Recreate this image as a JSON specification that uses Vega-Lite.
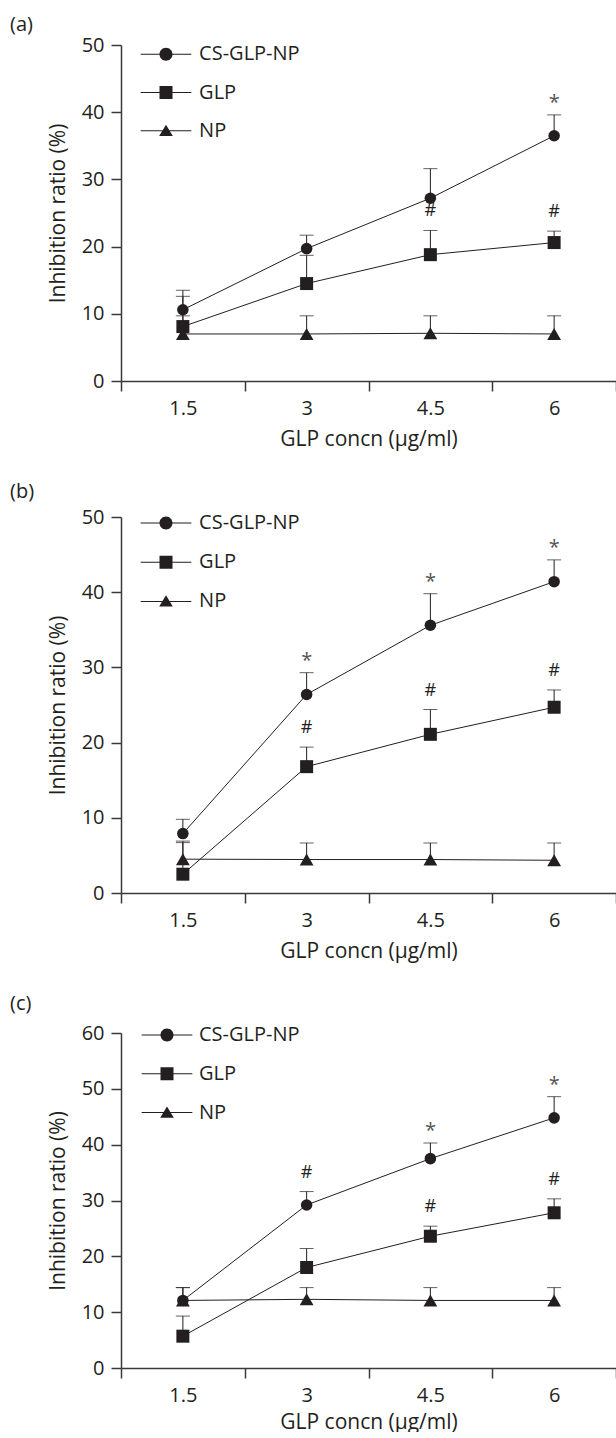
{
  "$schema": "https://vega.github.io/schema/vega-lite/v6.json",
  "padding": {"left": 10, "top": 14, "right": 0, "bottom": 0},
  "spacing": 32,
  "datasets": {
    "a": [
      {"conc": "1.5", "series": "CS-GLP-NP", "mean": 10.6, "upper": 13.5, "sig": ""},
      {"conc": "3", "series": "CS-GLP-NP", "mean": 19.7, "upper": 21.7, "sig": ""},
      {"conc": "4.5", "series": "CS-GLP-NP", "mean": 27.2, "upper": 31.6, "sig": ""},
      {"conc": "6", "series": "CS-GLP-NP", "mean": 36.5, "upper": 39.6, "sig": "*"},
      {"conc": "1.5", "series": "GLP", "mean": 8.1, "upper": 12.6, "sig": ""},
      {"conc": "3", "series": "GLP", "mean": 14.5, "upper": 18.7, "sig": ""},
      {"conc": "4.5", "series": "GLP", "mean": 18.8, "upper": 22.4, "sig": "#"},
      {"conc": "6", "series": "GLP", "mean": 20.6, "upper": 22.3, "sig": "#"},
      {"conc": "1.5", "series": "NP", "mean": 7.0, "upper": 9.7, "sig": ""},
      {"conc": "3", "series": "NP", "mean": 7.0, "upper": 9.7, "sig": ""},
      {"conc": "4.5", "series": "NP", "mean": 7.1, "upper": 9.7, "sig": ""},
      {"conc": "6", "series": "NP", "mean": 7.0, "upper": 9.7, "sig": ""}
    ],
    "b": [
      {"conc": "1.5", "series": "CS-GLP-NP", "mean": 7.9, "upper": 9.8, "sig": ""},
      {"conc": "3", "series": "CS-GLP-NP", "mean": 26.4, "upper": 29.3, "sig": "*"},
      {"conc": "4.5", "series": "CS-GLP-NP", "mean": 35.6, "upper": 39.8, "sig": "*"},
      {"conc": "6", "series": "CS-GLP-NP", "mean": 41.4, "upper": 44.3, "sig": "*"},
      {"conc": "1.5", "series": "GLP", "mean": 2.5, "upper": 6.9, "sig": ""},
      {"conc": "3", "series": "GLP", "mean": 16.8, "upper": 19.4, "sig": "#"},
      {"conc": "4.5", "series": "GLP", "mean": 21.1, "upper": 24.4, "sig": "#"},
      {"conc": "6", "series": "GLP", "mean": 24.7, "upper": 27.0, "sig": "#"},
      {"conc": "1.5", "series": "NP", "mean": 4.5, "upper": 6.7, "sig": ""},
      {"conc": "3", "series": "NP", "mean": 4.45, "upper": 6.65, "sig": ""},
      {"conc": "4.5", "series": "NP", "mean": 4.45, "upper": 6.65, "sig": ""},
      {"conc": "6", "series": "NP", "mean": 4.35, "upper": 6.65, "sig": ""}
    ],
    "c": [
      {"conc": "1.5", "series": "CS-GLP-NP", "mean": 12.1, "upper": 14.4, "sig": ""},
      {"conc": "3", "series": "CS-GLP-NP", "mean": 29.2, "upper": 31.6, "sig": "#"},
      {"conc": "4.5", "series": "CS-GLP-NP", "mean": 37.5, "upper": 40.3, "sig": "*"},
      {"conc": "6", "series": "CS-GLP-NP", "mean": 44.8, "upper": 48.6, "sig": "*"},
      {"conc": "1.5", "series": "GLP", "mean": 5.7, "upper": 9.3, "sig": ""},
      {"conc": "3", "series": "GLP", "mean": 18.0, "upper": 21.4, "sig": ""},
      {"conc": "4.5", "series": "GLP", "mean": 23.6, "upper": 25.4, "sig": "#"},
      {"conc": "6", "series": "GLP", "mean": 27.8, "upper": 30.3, "sig": "#"},
      {"conc": "1.5", "series": "NP", "mean": 12.1, "upper": 14.4, "sig": ""},
      {"conc": "3", "series": "NP", "mean": 12.3, "upper": 14.4, "sig": ""},
      {"conc": "4.5", "series": "NP", "mean": 12.1, "upper": 14.4, "sig": ""},
      {"conc": "6", "series": "NP", "mean": 12.1, "upper": 14.4, "sig": ""}
    ]
  },
  "resolve": {
    "scale": {"x": "independent", "y": "independent", "shape": "independent"},
    "legend": {"shape": "independent"}
  },
  "vconcat": [
    {
      "data": {"name": "a"},
      "width": 495,
      "height": 336,
      "title": {"text": "(a)", "anchor": "start", "frame": "group", "dx": -111, "offset": 0.2, "fontSize": 20, "fontWeight": "normal", "font": "Open Sans", "color": "#231f20"},
      "encoding": {
        "x": {"field": "conc", "type": "ordinal", "sort": ["1.5", "3", "4.5", "6"], "scale": {"type": "band", "paddingInner": 0, "paddingOuter": 0}, "title": "GLP concn (μg/ml)"},
        "y": {"field": "mean", "type": "quantitative", "title": "Inhibition ratio (%)", "scale": {"domain": [0, 50]}, "axis": {"values": [0, 10, 20, 30, 40, 50]}}
      },
      "layer": [
        {"mark": {"type": "rule", "color": "#231f20", "strokeWidth": 1}, "encoding": {"y2": {"field": "upper"}}},
        {"mark": {"type": "tick", "color": "#231f20", "thickness": 1, "size": 14}, "encoding": {"y": {"field": "upper", "type": "quantitative", "title": "Inhibition ratio (%)", "scale": {"domain": [0, 50]}}}},
        {"mark": {"type": "line", "color": "#231f20", "strokeWidth": 1}, "encoding": {"detail": {"field": "series"}}},
        {"mark": {"type": "point", "filled": true, "color": "#231f20", "opacity": 0, "size": 169},
         "encoding": {
           "shape": {"field": "series", "type": "nominal", "scale": {"domain": ["CS-GLP-NP", "GLP", "NP"], "range": ["M-3.9,-0.08H3.9V0.08H-3.9ZM1,0A1,1,0,1,1,-1,0A1,1,0,1,1,1,0Z", "M-3.9,-0.08H3.9V0.08H-3.9ZM-1,-1H1V1H-1Z", "M-3.9,-0.08H3.9V0.08H-3.9ZM0,-0.95L1.05,0.8H-1.05Z"]},
             "legend": {"orient": "none", "legendX": 35, "legendY": -0.8, "title": null, "padding": 0, "symbolSize": 169, "symbolOpacity": 1, "symbolFillColor": "#231f20", "symbolStrokeColor": "#231f20", "symbolStrokeWidth": 0, "labelFontSize": 20, "labelFont": "Open Sans", "labelColor": "#231f20", "labelOffset": 23.1, "rowPadding": 18.3}}
         }},
        {"transform": [{"filter": "datum.series === 'CS-GLP-NP'"}], "mark": {"type": "point", "shape": "circle", "filled": true, "color": "#231f20", "opacity": 1, "strokeWidth": 0, "size": 133}},
        {"transform": [{"filter": "datum.series === 'GLP'"}], "mark": {"type": "point", "shape": "square", "filled": true, "color": "#231f20", "opacity": 1, "strokeWidth": 0, "size": 169}},
        {"transform": [{"filter": "datum.series === 'NP'"}], "mark": {"type": "point", "shape": "triangle-up", "filled": true, "color": "#231f20", "opacity": 1, "strokeWidth": 0, "size": 190}},
        {"transform": [{"filter": "datum.sig === '#'"}], "mark": {"type": "text", "font": "Open Sans", "fontSize": 18, "baseline": "middle", "dy": -19, "color": "#231f20"}, "encoding": {"y": {"field": "upper", "type": "quantitative", "title": "Inhibition ratio (%)", "scale": {"domain": [0, 50]}}, "text": {"field": "sig"}}},
        {"transform": [{"filter": "datum.sig === '*'"}], "mark": {"type": "text", "font": "Open Sans", "fontSize": 20, "baseline": "middle", "dy": -12, "color": "#555555"}, "encoding": {"y": {"field": "upper", "type": "quantitative", "title": "Inhibition ratio (%)", "scale": {"domain": [0, 50]}}, "text": {"field": "sig"}}}
      ]
    },
    {
      "data": {"name": "b"},
      "width": 495,
      "height": 376,
      "title": {"text": "(b)", "anchor": "start", "frame": "group", "dx": -111, "offset": 5.2, "fontSize": 20, "fontWeight": "normal", "font": "Open Sans", "color": "#231f20"},
      "encoding": {
        "x": {"field": "conc", "type": "ordinal", "sort": ["1.5", "3", "4.5", "6"], "scale": {"type": "band", "paddingInner": 0, "paddingOuter": 0}, "title": "GLP concn (μg/ml)"},
        "y": {"field": "mean", "type": "quantitative", "title": "Inhibition ratio (%)", "scale": {"domain": [0, 50]}, "axis": {"values": [0, 10, 20, 30, 40, 50]}}
      },
      "layer": [
        {"mark": {"type": "rule", "color": "#231f20", "strokeWidth": 1}, "encoding": {"y2": {"field": "upper"}}},
        {"mark": {"type": "tick", "color": "#231f20", "thickness": 1, "size": 14}, "encoding": {"y": {"field": "upper", "type": "quantitative", "title": "Inhibition ratio (%)", "scale": {"domain": [0, 50]}}}},
        {"mark": {"type": "line", "color": "#231f20", "strokeWidth": 1}, "encoding": {"detail": {"field": "series"}}},
        {"mark": {"type": "point", "filled": true, "color": "#231f20", "opacity": 0, "size": 169},
         "encoding": {
           "shape": {"field": "series", "type": "nominal", "scale": {"domain": ["CS-GLP-NP", "GLP", "NP"], "range": ["M-3.9,-0.08H3.9V0.08H-3.9ZM1,0A1,1,0,1,1,-1,0A1,1,0,1,1,1,0Z", "M-3.9,-0.08H3.9V0.08H-3.9ZM-1,-1H1V1H-1Z", "M-3.9,-0.08H3.9V0.08H-3.9ZM0,-0.95L1.05,0.8H-1.05Z"]},
             "legend": {"orient": "none", "legendX": 35, "legendY": -4, "title": null, "padding": 0, "symbolSize": 169, "symbolOpacity": 1, "symbolFillColor": "#231f20", "symbolStrokeColor": "#231f20", "symbolStrokeWidth": 0, "labelFontSize": 20, "labelFont": "Open Sans", "labelColor": "#231f20", "labelOffset": 23.1, "rowPadding": 19.2}}
         }},
        {"transform": [{"filter": "datum.series === 'CS-GLP-NP'"}], "mark": {"type": "point", "shape": "circle", "filled": true, "color": "#231f20", "opacity": 1, "strokeWidth": 0, "size": 133}},
        {"transform": [{"filter": "datum.series === 'GLP'"}], "mark": {"type": "point", "shape": "square", "filled": true, "color": "#231f20", "opacity": 1, "strokeWidth": 0, "size": 169}},
        {"transform": [{"filter": "datum.series === 'NP'"}], "mark": {"type": "point", "shape": "triangle-up", "filled": true, "color": "#231f20", "opacity": 1, "strokeWidth": 0, "size": 190}},
        {"transform": [{"filter": "datum.sig === '#'"}], "mark": {"type": "text", "font": "Open Sans", "fontSize": 18, "baseline": "middle", "dy": -19, "color": "#231f20"}, "encoding": {"y": {"field": "upper", "type": "quantitative", "title": "Inhibition ratio (%)", "scale": {"domain": [0, 50]}}, "text": {"field": "sig"}}},
        {"transform": [{"filter": "datum.sig === '*'"}], "mark": {"type": "text", "font": "Open Sans", "fontSize": 20, "baseline": "middle", "dy": -12, "color": "#555555"}, "encoding": {"y": {"field": "upper", "type": "quantitative", "title": "Inhibition ratio (%)", "scale": {"domain": [0, 50]}}, "text": {"field": "sig"}}}
      ]
    },
    {
      "data": {"name": "c"},
      "width": 495,
      "height": 335,
      "title": {"text": "(c)", "anchor": "start", "frame": "group", "dx": -111, "offset": 9.2, "fontSize": 20, "fontWeight": "normal", "font": "Open Sans", "color": "#231f20"},
      "encoding": {
        "x": {"field": "conc", "type": "ordinal", "sort": ["1.5", "3", "4.5", "6"], "scale": {"type": "band", "paddingInner": 0, "paddingOuter": 0}, "title": "GLP concn (μg/ml)", "axis": {"titlePadding": 6}},
        "y": {"field": "mean", "type": "quantitative", "title": "Inhibition ratio (%)", "scale": {"domain": [0, 60]}, "axis": {"values": [0, 10, 20, 30, 40, 50, 60]}}
      },
      "layer": [
        {"mark": {"type": "rule", "color": "#231f20", "strokeWidth": 1}, "encoding": {"y2": {"field": "upper"}}},
        {"mark": {"type": "tick", "color": "#231f20", "thickness": 1, "size": 14}, "encoding": {"y": {"field": "upper", "type": "quantitative", "title": "Inhibition ratio (%)", "scale": {"domain": [0, 60]}}}},
        {"mark": {"type": "line", "color": "#231f20", "strokeWidth": 1}, "encoding": {"detail": {"field": "series"}}},
        {"mark": {"type": "point", "filled": true, "color": "#231f20", "opacity": 0, "size": 169},
         "encoding": {
           "shape": {"field": "series", "type": "nominal", "scale": {"domain": ["CS-GLP-NP", "GLP", "NP"], "range": ["M-3.9,-0.08H3.9V0.08H-3.9ZM1,0A1,1,0,1,1,-1,0A1,1,0,1,1,1,0Z", "M-3.9,-0.08H3.9V0.08H-3.9ZM-1,-1H1V1H-1Z", "M-3.9,-0.08H3.9V0.08H-3.9ZM0,-0.95L1.05,0.8H-1.05Z"]},
             "legend": {"orient": "none", "legendX": 36, "legendY": -8, "title": null, "padding": 0, "symbolSize": 169, "symbolOpacity": 1, "symbolFillColor": "#231f20", "symbolStrokeColor": "#231f20", "symbolStrokeWidth": 0, "labelFontSize": 20, "labelFont": "Open Sans", "labelColor": "#231f20", "labelOffset": 22, "rowPadding": 18.8}}
         }},
        {"transform": [{"filter": "datum.series === 'CS-GLP-NP'"}], "mark": {"type": "point", "shape": "circle", "filled": true, "color": "#231f20", "opacity": 1, "strokeWidth": 0, "size": 133}},
        {"transform": [{"filter": "datum.series === 'GLP'"}], "mark": {"type": "point", "shape": "square", "filled": true, "color": "#231f20", "opacity": 1, "strokeWidth": 0, "size": 169}},
        {"transform": [{"filter": "datum.series === 'NP'"}], "mark": {"type": "point", "shape": "triangle-up", "filled": true, "color": "#231f20", "opacity": 1, "strokeWidth": 0, "size": 190}},
        {"transform": [{"filter": "datum.sig === '#'"}], "mark": {"type": "text", "font": "Open Sans", "fontSize": 18, "baseline": "middle", "dy": -19, "color": "#231f20"}, "encoding": {"y": {"field": "upper", "type": "quantitative", "title": "Inhibition ratio (%)", "scale": {"domain": [0, 60]}}, "text": {"field": "sig"}}},
        {"transform": [{"filter": "datum.sig === '*'"}], "mark": {"type": "text", "font": "Open Sans", "fontSize": 20, "baseline": "middle", "dy": -12, "color": "#555555"}, "encoding": {"y": {"field": "upper", "type": "quantitative", "title": "Inhibition ratio (%)", "scale": {"domain": [0, 60]}}, "text": {"field": "sig"}}}
      ]
    }
  ],
  "config": {
    "font": "Open Sans",
    "view": {"stroke": null},
    "axis": {"grid": false, "domainColor": "#3a3a3a", "tickColor": "#3a3a3a", "domainWidth": 1.5, "tickWidth": 1.5, "tickSize": 10, "labelFont": "Open Sans", "labelFontSize": 20, "labelColor": "#231f20", "titleFont": "Open Sans", "titleFontSize": 21, "titleFontWeight": "normal", "titleColor": "#231f20"},
    "axisX": {"labelAngle": 0, "labelPadding": 7, "titlePadding": 10, "tickBand": "extent"},
    "axisY": {"labelPadding": 7, "titlePadding": 13}
  }
}
